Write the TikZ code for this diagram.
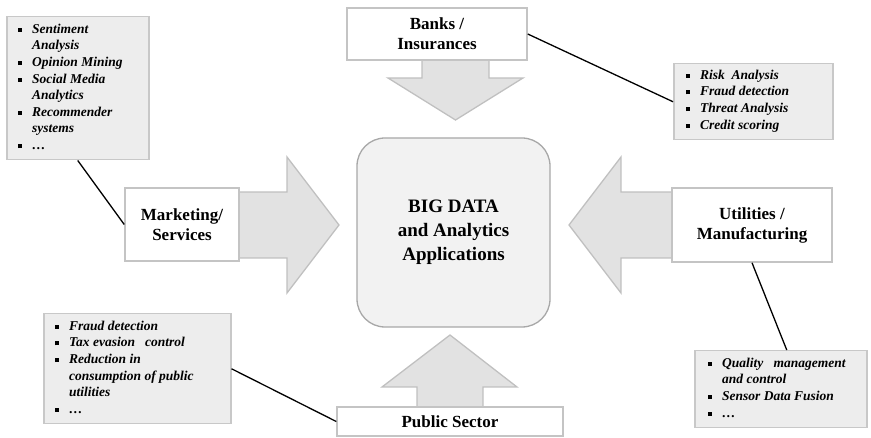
\documentclass[tikz,border=0pt]{standalone}
\usepackage{fontspec}
\setmainfont{Liberation Serif}
\usetikzlibrary{calc}

\definecolor{arrowgray}{HTML}{E2E2E2}
\definecolor{arrowedge}{HTML}{C0C0C0}
\definecolor{boxedge}{HTML}{C4C4C4}
\definecolor{listgray}{HTML}{EDEDED}
\definecolor{listedge}{HTML}{C8C8C8}
\definecolor{corefill}{HTML}{F2F2F2}
\definecolor{coreedge}{HTML}{A8A8A8}

% small square bullet used in the lists
\newcommand\sqbul{\rule[1.5pt]{4pt}{4pt}}
\newcommand\listfont{\fontsize{13.5}{16.6}\selectfont\bfseries\itshape}

\begin{document}
\begin{tikzpicture}[x=1pt,y=-1pt,
  blockarrow/.style={fill=arrowgray, draw=arrowedge, line width=1.3pt, line join=miter},
  labelbox/.style={draw=boxedge, fill=white, line width=1.5pt, inner sep=0pt,
    font=\fontsize{17}{20}\selectfont\bfseries, align=center},
  corebox/.style={draw=coreedge, fill=corefill, line width=1.3pt, rounded corners=28pt,
    inner sep=0pt, font=\fontsize{19}{24}\selectfont\bfseries, align=center},
  listbox/.style={draw=listedge, fill=listgray, line width=1.5pt, inner sep=0pt, anchor=north west},
  listtext/.style={anchor=north west, inner sep=0pt, font=\listfont},
  link/.style={draw=black, line width=1.3pt}]

\useasboundingbox (0,0) rectangle (871,438);

% block arrows pointing at the central box
\path[blockarrow] (422,55) -- (489,55) -- (489,78) -- (523,78) -- (455.5,120)
  -- (388,78) -- (422,78) -- cycle;
\path[blockarrow] (230,192) -- (287,192) -- (287,157) -- (339,225) -- (287,293)
  -- (287,258) -- (230,258) -- cycle;
\path[blockarrow] (680,192) -- (621,192) -- (621,157) -- (569,225) -- (621,293)
  -- (621,258) -- (680,258) -- cycle;
\path[blockarrow] (417,412) -- (417,387) -- (382,387) -- (450,335) -- (517,387)
  -- (483,387) -- (483,412) -- cycle;

% central box
\node[corebox, minimum width=193, minimum height=189] (core) at (453.5,232.5)
  {BIG DATA\\and Analytics\\Applications};

% sector boxes
\node[labelbox, minimum width=180, minimum height=52] (bk) at (437,34) {Banks /\\Insurances};
\node[labelbox, minimum width=114, minimum height=73] (mkt) at (182,224.5) {Marketing/\\Services};
\node[labelbox, minimum width=160, minimum height=74] (ut) at (752,225) {Utilities /\\Manufacturing};
\node[labelbox, minimum width=226, minimum height=29] (pub) at (450,421.5) {Public Sector};

% application lists
\node[listbox, minimum width=142, minimum height=143] (mkl) at (6,16) {};
\node[listtext] (mklt) at ($(mkl.north west)+(12,5.5)$) {%
  \begin{tabular}{@{}l@{\hspace{10pt}}l@{}}
  \sqbul & Sentiment\\
         & Analysis\\
  \sqbul & Opinion Mining\\
  \sqbul & Social Media\\
         & Analytics\\
  \sqbul & Recommender\\
         & systems\\
  \sqbul & \dots
  \end{tabular}};

\node[listbox, minimum width=159, minimum height=76] (bkl) at (673,63) {};
\node[listtext] (bklt) at ($(bkl.north west)+(13,4.5)$) {%
  \begin{tabular}{@{}l@{\hspace{10pt}}l@{}}
  \sqbul & Risk\ \ Analysis\\
  \sqbul & Fraud detection\\
  \sqbul & Threat Analysis\\
  \sqbul & Credit scoring
  \end{tabular}};

\node[listbox, minimum width=187, minimum height=110] (publ) at (43,313) {};
\node[listtext] (publt) at ($(publ.north west)+(12,5.5)$) {%
  \begin{tabular}{@{}l@{\hspace{10pt}}l@{}}
  \sqbul & Fraud detection\\
  \sqbul & Tax evasion\ \ \ control\\
  \sqbul & Reduction in\\
         & consumption of public\\
         & utilities\\
  \sqbul & \dots
  \end{tabular}};

\node[listbox, minimum width=172, minimum height=77] (utl) at (694,350) {};
\node[listtext] (utlt) at ($(utl.north west)+(14,5.5)$) {%
  \begin{tabular}{@{}l@{\hspace{10pt}}l@{}}
  \sqbul & Quality\ \ \ management\\
         & and control\\
  \sqbul & Sensor Data Fusion\\
  \sqbul & \dots
  \end{tabular}};

% connectors from sectors to their lists
\draw[link] (bk.east) -- (bkl.west);
\draw[link] (mkl.south) -- (mkt.west);
\draw[link] (publ.east) -- (pub.west);
\draw[link] (ut.south) -- ([xshift=6pt]utl.north);

\end{tikzpicture}
\end{document}
